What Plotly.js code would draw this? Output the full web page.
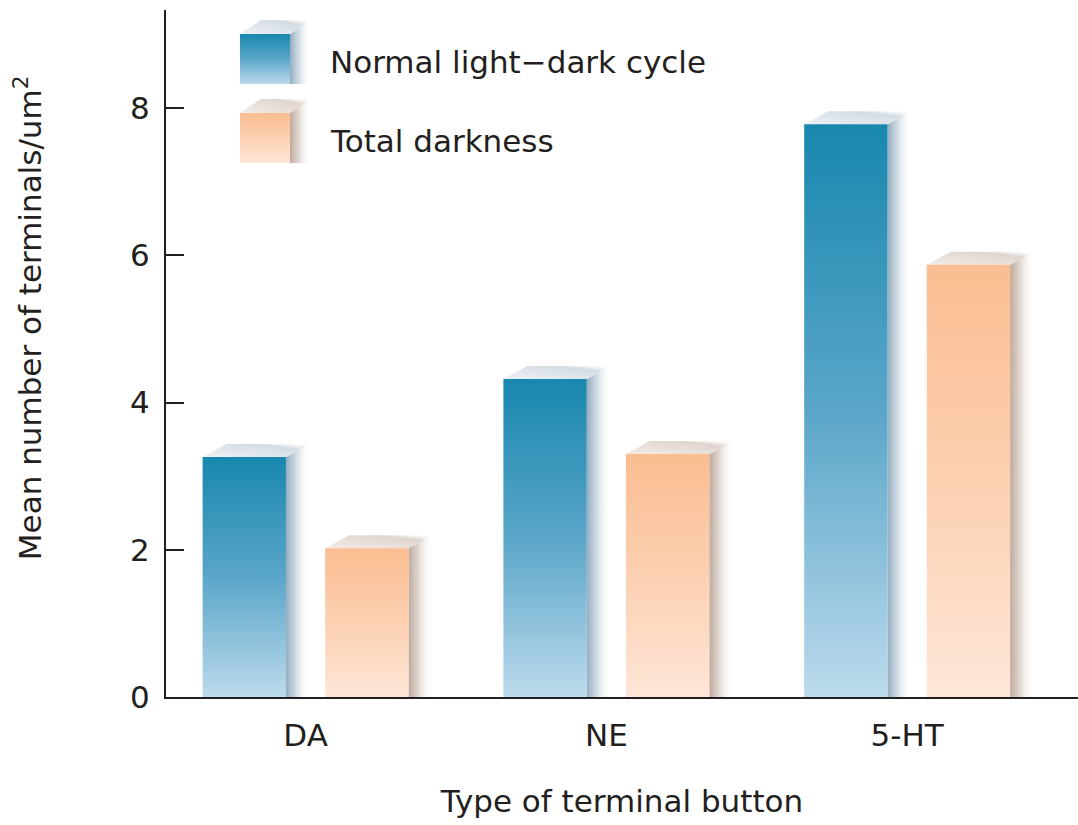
<!DOCTYPE html>
<html>
<head>
<meta charset="utf-8">
<script src="https://cdn.plot.ly/plotly-3.0.1.min.js"></script>
<style>
  html, body { margin: 0; padding: 0; background: #ffffff; }
  #chart { width: 1078px; height: 825px; }
</style>
</head>
<body>
<div id="chart"></div>
<script>
// ---- data ----
const categories = ['DA', 'NE', '5-HT'];
const normalCycle = [3.26, 4.32, 7.78];
const totalDark = [2.02, 3.30, 5.87];
const seriesNames = ['Normal light\u2212dark cycle', 'Total darkness'];
const yTicks = [0, 2, 4, 6, 8];
const xTitle = 'Type of terminal button';
const yTitle = 'Mean number of terminals/um<sup>2</sup>';

const FONT = '"DejaVu Sans", Verdana, sans-serif';
const INK = '#231f20';
const FS = 31;

const traces = [
  { type: 'bar', name: seriesNames[0], x: categories, y: normalCycle,
    marker: { color: '#1a8ab0', line: { width: 0 } }, legendgroup: 'a', hoverinfo: 'x+y' },
  { type: 'bar', name: seriesNames[1], x: categories, y: totalDark,
    marker: { color: '#fbbf94', line: { width: 0 } }, legendgroup: 'b', hoverinfo: 'x+y' }
];

const layout = {
  width: 1078, height: 825,
  margin: { l: 166, r: 0, t: 10, b: 128, pad: 0 },
  paper_bgcolor: '#ffffff', plot_bgcolor: 'rgba(0,0,0,0)',
  font: { family: FONT, color: INK, size: FS },
  barmode: 'group', bargap: 0.185, bargroupgap: 0.32,
  showlegend: true,
  legend: {
    x: 0.09, y: 1.0, xanchor: 'left', yanchor: 'top',
    font: { family: FONT, size: FS, color: INK },
    bgcolor: 'rgba(0,0,0,0)', itemwidth: 60, tracegroupgap: 36,
    traceorder: 'normal'
  },
  xaxis: {
    type: 'category', range: [-0.464, 2.568],
    showline: true, linecolor: INK, linewidth: 2,
    ticks: '', showgrid: false, zeroline: false,
    tickfont: { family: FONT, size: FS, color: INK },
    ticklabelstandoff: 10,
    title: { text: xTitle, font: { family: FONT, size: FS, color: INK }, standoff: 38 }
  },
  yaxis: {
    range: [0, 9.331], tickvals: yTicks, ticktext: yTicks.map(String),
    showline: true, linecolor: INK, linewidth: 2,
    ticks: 'inside', ticklen: 18, tickwidth: 2, tickcolor: INK,
    showgrid: false, zeroline: false,
    tickfont: { family: FONT, size: FS, color: INK },
    ticklabelstandoff: 8
  },
  annotations: [{
    text: yTitle, textangle: -90, showarrow: false,
    xref: 'paper', yref: 'paper', x: -0.152, y: 0.552,
    xanchor: 'center', yanchor: 'middle',
    font: { family: FONT, size: FS, color: INK }
  }]
};

const SVGNS = 'http://www.w3.org/2000/svg';
function mk(tag, attrs) {
  const el = document.createElementNS(SVGNS, tag);
  for (const k in attrs) el.setAttribute(k, attrs[k]);
  return el;
}
function linGrad(defs, id, x1, y1, x2, y2, stops) {
  const g = mk('linearGradient', { id: id, x1: x1, y1: y1, x2: x2, y2: y2 });
  stops.forEach(s => g.appendChild(mk('stop', { offset: s[0], 'stop-color': s[1], 'stop-opacity': s[2] === undefined ? 1 : s[2] })));
  defs.appendChild(g);
}

const palettes = [
  { front: 'gBlueFront', side: 'gBlueSide', top: 'gBlueTop' },
  { front: 'gOrFront', side: 'gOrSide', top: 'gOrTop' }
];

function addFaces(parent, before, x, y, w, h, pal, dx, dy) {
  const top = mk('polygon', {
    points: [[x, y], [x + dx, y - dy], [x + w + dx, y - dy], [x + w, y]].map(p => p.join(',')).join(' '),
    fill: 'url(#' + pal.top + ')'
  });
  const side = mk('polygon', {
    points: [[x + w, y], [x + w + dx, y - dy], [x + w + dx, y + h], [x + w, y + h]].map(p => p.join(',')).join(' '),
    fill: 'url(#' + pal.side + ')'
  });
  parent.insertBefore(side, before);
  parent.insertBefore(top, before);
}

function parseTranslate(t) {
  const m = /translate\(\s*([-\d.e]+)[ ,]+([-\d.e]+)\s*\)/.exec(t || '');
  return m ? [parseFloat(m[1]), parseFloat(m[2])] : [0, 0];
}

const gd = document.getElementById('chart');
Plotly.newPlot(gd, traces, layout, { staticPlot: true, displayModeBar: false }).then(() => {
  const svg = gd.querySelector('svg.main-svg');
  let defs = svg.querySelector('defs');
  if (!defs) { defs = mk('defs', {}); svg.insertBefore(defs, svg.firstChild); }
  linGrad(defs, 'gBlueFront', 0, 0, 0, 1, [[0, '#1987ae'], [0.5, '#5aa6c9'], [1, '#bcdaec']]);
  linGrad(defs, 'gOrFront', 0, 0, 0, 1, [[0, '#fbbd91'], [0.5, '#fcd0b1'], [1, '#fee6d8']]);
  linGrad(defs, 'gBlueSide', 0, 0, 1, 0, [[0, '#93acbf', 1], [0.4, '#c5d3de', 0.85], [1, '#ffffff', 0]]);
  linGrad(defs, 'gOrSide', 0, 0, 1, 0, [[0, '#bda99c', 1], [0.4, '#dacfc7', 0.85], [1, '#ffffff', 0]]);
  linGrad(defs, 'gBlueTop', 0, 1, 1, 0, [[0, '#eef2f5', 1], [0.75, '#cfd8e0', 0.9], [1, '#ffffff', 0.2]]);
  linGrad(defs, 'gOrTop', 0, 1, 1, 0, [[0, '#f3ede8', 1], [0.75, '#dcd1c9', 0.9], [1, '#ffffff', 0.2]]);

  // bars: gradient front + 3D faces derived from the rendered bar geometry
  gd.querySelectorAll('.barlayer .trace').forEach((tr, ti) => {
    const pal = palettes[ti];
    tr.querySelectorAll('.point').forEach(pt => {
      const path = pt.querySelector('path');
      if (!path) return;
      const bb = path.getBBox();
      path.style.fill = 'url(#' + pal.front + ')';
      addFaces(pt, path, bb.x, bb.y, bb.width, bb.height, pal, 24, 13);
    });
  });

  // legend: place items as in the reference and draw large 3D swatches
  const gdRect = gd.getBoundingClientRect();
  gd.querySelectorAll('.legend .scrollbox').forEach(sb => sb.removeAttribute('clip-path'));
  const wantTextLeft = 330, wantTextMid = [62, 141];
  gd.querySelectorAll('.legend .traces').forEach((it, i) => {
    const pal = palettes[i];
    const txt = it.querySelector('text.legendtext');
    const r = txt.getBoundingClientRect();
    const dxs = wantTextLeft - (r.left - gdRect.left);
    const dys = wantTextMid[i] - ((r.top + r.bottom) / 2 - gdRect.top);
    const t = parseTranslate(it.getAttribute('transform'));
    it.setAttribute('transform', 'translate(' + (t[0] + dxs) + ',' + (t[1] + dys) + ')');
    const sp = it.querySelector('.legendpoints path');
    if (sp) sp.style.display = 'none';
    const bb = txt.getBBox();
    const s = 50;
    const x0 = bb.x - 90, cy = bb.y + bb.height / 2 - 3;
    const g = mk('g', {});
    const front = mk('rect', { x: x0, y: cy - s / 2, width: s, height: s, fill: 'url(#' + pal.front + ')' });
    g.appendChild(front);
    addFaces(g, front, x0, cy - s / 2, s, s, pal, 21, 14);
    it.appendChild(g);
  });
});
</script>
</body>
</html>
